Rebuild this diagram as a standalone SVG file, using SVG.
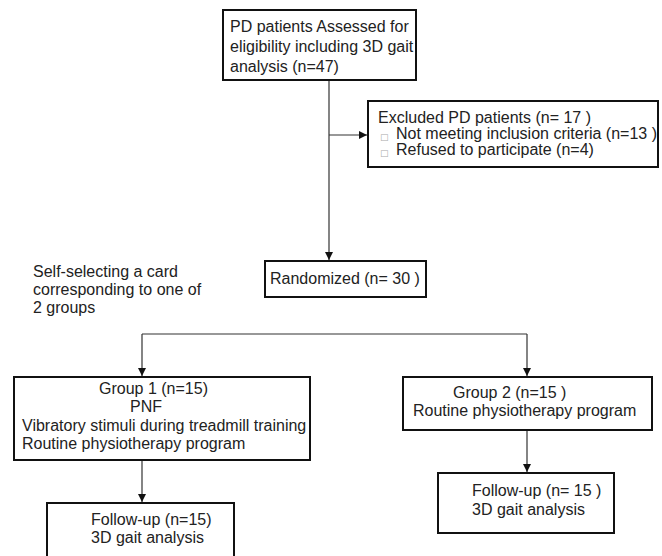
<svg xmlns="http://www.w3.org/2000/svg" width="662" height="556" viewBox="0 0 662 556">
<style>
.box{fill:#fff;stroke:#111;stroke-width:2}
.t{font-family:"Liberation Sans",Arial,sans-serif;font-size:16px;fill:#222}
.b{font-family:"DejaVu Sans",sans-serif;font-size:9px;fill:#aaa}
.c{fill:none;stroke:#333;stroke-width:1.2}
</style>
<defs>
<marker id="ah" viewBox="0 0 10 10" refX="10" refY="5" markerWidth="8" markerHeight="8" markerUnits="userSpaceOnUse" orient="auto">
<path d="M0,0 L10,5 L0,10 Z" fill="#111"/>
</marker>
</defs>
<rect width="662" height="556" fill="#fff"/>
<g id="connectors">
<line class="c" x1="329" y1="81" x2="329" y2="260" marker-end="url(#ah)"/>
<line class="c" x1="329" y1="135" x2="367" y2="135" marker-end="url(#ah)"/>
<line class="c" x1="142" y1="334" x2="527" y2="334"/>
<line class="c" x1="142" y1="334" x2="142" y2="376" marker-end="url(#ah)"/>
<line class="c" x1="527" y1="334" x2="527" y2="376" marker-end="url(#ah)"/>
<line class="c" x1="142" y1="461" x2="142" y2="502" marker-end="url(#ah)"/>
<line class="c" x1="527" y1="431" x2="527" y2="472" marker-end="url(#ah)"/>
</g>
<g id="assessed">
<rect class="box" x="223" y="10" width="193" height="70"/>
<text class="t" x="230" y="32">PD patients Assessed for</text>
<text class="t" x="230" y="52">eligibility including 3D gait</text>
<text class="t" x="230" y="72">analysis (n=47)</text>
</g>
<g id="excluded">
<rect class="box" x="368" y="101" width="290" height="66"/>
<text class="t" x="378" y="123">Excluded PD patients (n= 17  )</text>
<text class="b" x="380" y="140">□</text>
<text class="t" x="396" y="139">Not meeting inclusion criteria (n=13 )</text>
<text class="b" x="380" y="156">□</text>
<text class="t" x="396" y="155">Refused to participate (n=4)</text>
</g>
<g id="randomized">
<rect class="box" x="265" y="261" width="161" height="36"/>
<text class="t" x="270" y="284">Randomized (n= 30 )</text>
</g>
<g id="note">
<text class="t" x="33" y="277">Self-selecting a card</text>
<text class="t" x="33" y="295">corresponding to one of</text>
<text class="t" x="33" y="313">2 groups</text>
</g>
<g id="group1">
<rect class="box" x="14" y="377" width="296" height="83"/>
<text class="t" x="99" y="394">Group 1 (n=15)</text>
<text class="t" x="130" y="412">PNF</text>
<text class="t" x="22" y="431">Vibratory stimuli during treadmill training</text>
<text class="t" x="22" y="449">Routine physiotherapy program</text>
</g>
<g id="group2">
<rect class="box" x="403" y="377" width="249" height="53"/>
<text class="t" x="453" y="398">Group 2 (n=15  )</text>
<text class="t" x="413" y="416">Routine physiotherapy program</text>
</g>
<g id="followup1">
<rect class="box" x="47" y="503" width="187" height="60"/>
<text class="t" x="91" y="525">Follow-up (n=15)</text>
<text class="t" x="91" y="543">3D gait analysis</text>
</g>
<g id="followup2">
<rect class="box" x="438" y="473" width="176" height="60"/>
<text class="t" x="472" y="496">Follow-up (n= 15 )</text>
<text class="t" x="472" y="515">3D gait analysis</text>
</g>
</svg>
